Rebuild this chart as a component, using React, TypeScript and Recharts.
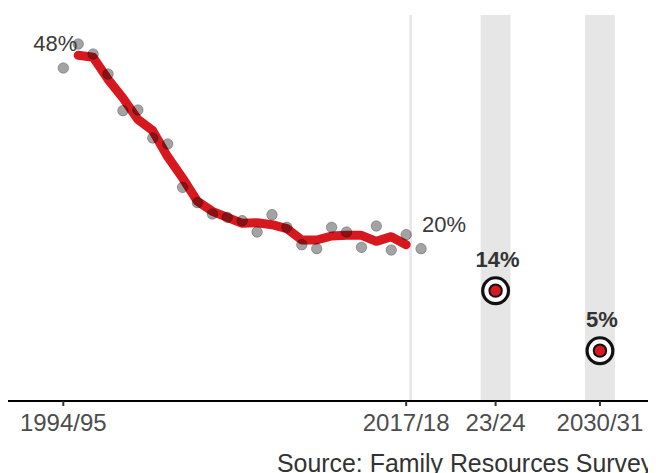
import React from 'react';
import { ComposedChart, Line, Scatter, XAxis, YAxis, ReferenceArea, ReferenceLine } from 'recharts';

const years = [1994, 1995, 1996, 1997, 1998, 1999, 2000, 2001, 2002, 2003, 2004, 2005, 2006, 2007, 2008, 2009, 2010, 2011, 2012, 2013, 2014, 2015, 2016, 2017, 2018];
const annualRate = [47.4, 51.0, 49.5, 46.5, 41.0, 41.1, 36.9, 36.0, 29.5, 27.2, 25.5, 25.0, 24.5, 22.8, 25.4, 23.5, 20.9, 20.3, 23.5, 22.8, 20.5, 23.7, 20.1, 22.4, 20.3];

const smoothYears = [1995, 1996, 1997, 1998, 1999, 2000, 2001, 2002, 2003, 2004, 2005, 2006, 2007, 2008, 2009, 2010, 2011, 2012, 2013, 2014, 2015, 2016, 2017];
const smoothRate = [49.3, 49.0, 45.7, 42.9, 39.7, 38.0, 34.1, 30.9, 27.4, 25.9, 25.0, 24.1, 24.2, 23.9, 23.3, 21.6, 21.6, 22.2, 22.3, 22.3, 21.4, 22.1, 20.9];

const labelYears = [1994, 2018];
const labelRate = [47.4, 20.3];
const labelTexts = ['48%', '20%'];

const targetYears = [2023, 2030];
const targetRate = [14, 5];
const targetLabels = ['14%', '5%'];

const tickYears = [1994, 2017, 2023, 2030];
const tickLabels = ['1994/95', '2017/18', '23/24', '2030/31'];

const annualData = years.map((year, i) => ({ year, value: annualRate[i] }));
const smoothData = smoothYears.map((year, i) => ({ year, value: smoothRate[i] }));
const labelData = labelYears.map((year, i) => ({ year, value: labelRate[i], text: labelTexts[i] }));
const targetData = targetYears.map((year, i) => ({ year, value: targetRate[i], text: targetLabels[i] }));

const FONT = '"Liberation Sans", Arial, Helvetica, sans-serif';

const fmtTick = (v: number) => {
  const i = tickYears.indexOf(v);
  return i >= 0 ? tickLabels[i] : '';
};

const DotShape = (props: any) => {
  const { cx, cy } = props;
  return <circle cx={cx} cy={cy} r={5.3} fill="#000" fillOpacity={0.36} stroke="#000" strokeOpacity={0.25} strokeWidth={1} />;
};

const LabelShape = (props: any) => {
  const { cx, cy, payload } = props;
  const first = payload.year === labelYears[0];
  return (
    <text
      x={first ? cx - 8 : cx + 1}
      y={first ? cy - 16.6 : cy - 17}
      textAnchor={first ? 'middle' : 'start'}
      fontFamily={FONT}
      fontSize={22}
      fill="#3a3a3a"
    >
      {payload.text}
    </text>
  );
};

const TargetShape = (props: any) => {
  const { cx, cy, payload } = props;
  return (
    <g>
      <circle cx={cx} cy={cy} r={14.5} fill="#111" />
      <circle cx={cx} cy={cy} r={11.3} fill="#fff" />
      <circle cx={cx} cy={cy} r={7.2} fill="#111" />
      <circle cx={cx} cy={cy} r={5.2} fill="#d7191f" />
      <text x={cx + 2} y={cy - 24} textAnchor="middle" fontFamily={FONT} fontSize={22} fontWeight="bold" fill="#333">
        {payload.text}
      </text>
    </g>
  );
};

export default function App() {
  return (
    <div style={{ position: 'relative', width: 648, height: 465, overflow: 'hidden', background: '#fff' }}>
      <ComposedChart width={648} height={465} margin={{ top: 7, right: 0, bottom: 32, left: 0 }}>
        <XAxis
          type="number"
          dataKey="year"
          domain={[1990.29, 2033.76]}
          allowDataOverflow
          ticks={tickYears}
          interval={0}
          tickFormatter={fmtTick}
          height={40}
          axisLine={{ stroke: '#000', strokeWidth: 2 }}
          tickLine={{ stroke: '#333', strokeWidth: 2 }}
          tickSize={5}
          tickMargin={8}
          tick={{ fill: '#4d4d4d', fontSize: 24, fontFamily: FONT }}
        />
        <YAxis type="number" hide domain={[-2.55, 55.35]} allowDataOverflow />
        <ReferenceArea x1={2022} x2={2024} fill="#e6e6e6" fillOpacity={1} stroke="none" />
        <ReferenceArea x1={2029} x2={2031} fill="#e6e6e6" fillOpacity={1} stroke="none" />
        <ReferenceLine x={2017.3} stroke="#e6e6e6" strokeWidth={2.5} />
        <Line
          data={smoothData}
          dataKey="value"
          type="linear"
          stroke="#d7191f"
          strokeWidth={9}
          strokeLinecap="round"
          strokeLinejoin="round"
          dot={false}
          activeDot={false}
          isAnimationActive={false}
        />
        <Scatter data={annualData} dataKey="value" shape={DotShape} isAnimationActive={false} />
        <Scatter data={labelData} dataKey="value" shape={LabelShape} isAnimationActive={false} />
        <Scatter data={targetData} dataKey="value" shape={TargetShape} isAnimationActive={false} />
      </ComposedChart>
      <div
        style={{
          position: 'absolute',
          left: 269,
          top: 443,
          fontFamily: FONT,
          fontSize: 24.9,
          lineHeight: '24.9px',
          color: '#333',
          whiteSpace: 'nowrap',
        }}
      >
        Source: Family Resources Survey
      </div>
    </div>
  );
}
